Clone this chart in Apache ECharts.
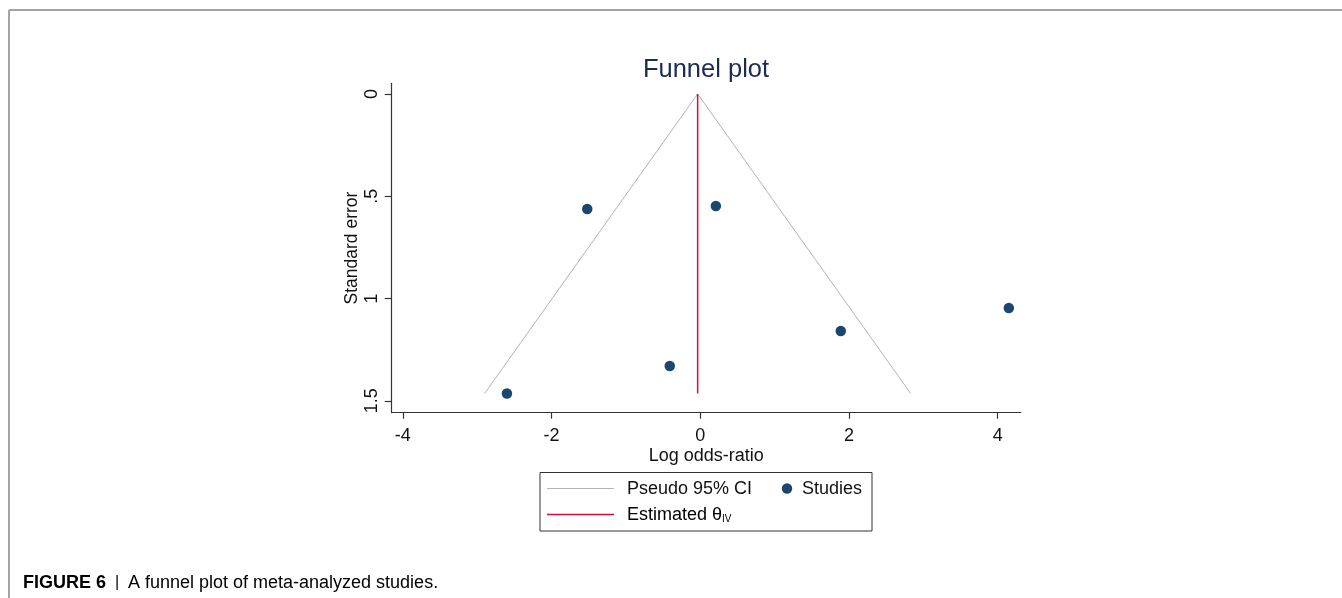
<!DOCTYPE html>
<html>
<head>
<meta charset="utf-8">
<title>Funnel plot</title>
<script src="https://cdn.jsdelivr.net/npm/echarts@6/dist/echarts.min.js"></script>
<style>
  html, body { margin: 0; padding: 0; background: #ffffff; }
  #chart { width: 1342px; height: 598px; }
</style>
</head>
<body>
<div id="chart"></div>
<script>
// Studies: log odds-ratio and its standard error
const studyLogOR = [-1.52, 0.21, 4.15, 1.89, -0.41, -2.60];
const studySE = [0.562, 0.548, 1.046, 1.159, 1.330, 1.464];

// Pseudo 95% CI funnel (left foot, apex, right foot)
const ciLogOR = [-2.90, -0.035, 2.83];
const ciSE = [1.464, 0, 1.464];

// Estimated effect (inverse-variance) line
const estLogOR = [-0.035, -0.035];
const estSE = [0, 1.464];

// Tick labels
const xTicks = [-4, -2, 0, 2, 4];
const yTicks = [0, 0.5, 1, 1.5];
const yTickText = ['0', '.5', '1', '1.5'];

const zip = (xs, ys) => xs.map((x, i) => [x, ys[i]]);

const FONT = '"Liberation Sans", Arial, sans-serif';
const NAVY = '#1a476f';
const RED = '#cc1238';
const GRAY = '#b4b4b4';
const AXIS = '#333333';
const TEXT = '#111111';

const chart = echarts.init(document.getElementById('chart'), null, { renderer: 'canvas' });

chart.setOption({
  animation: false,
  backgroundColor: '#ffffff',
  title: {
    text: 'Funnel plot',
    left: 701,
    textAlign: 'center',
    top: 52,
    textStyle: { fontFamily: FONT, fontSize: 25.5, fontWeight: 'normal', color: '#1c2b50' }
  },
  grid: { left: 391.7, right: 321.3, top: 83.3, bottom: 185.3, containLabel: false },
  xAxis: {
    type: 'value',
    min: -4.15,
    max: 4.31,
    name: 'Log odds-ratio',
    nameLocation: 'middle',
    nameGap: 34,
    nameMoveOverlap: false,
    nameTextStyle: { fontFamily: FONT, fontSize: 18, color: TEXT },
    axisLine: { show: true, onZero: false, lineStyle: { color: AXIS, width: 1.2 } },
    axisTick: { show: true, length: 6, customValues: xTicks, lineStyle: { color: AXIS, width: 1.2 } },
    axisLabel: {
      customValues: xTicks,
      margin: 14,
      fontFamily: FONT, fontSize: 18, color: TEXT,
      formatter: v => String(v)
    },
    splitLine: { show: false }
  },
  yAxis: {
    type: 'value',
    inverse: true,
    min: -0.052,
    max: 1.558,
    name: 'Standard error',
    nameLocation: 'middle',
    nameRotate: 90,
    nameGap: 31,
    nameMoveOverlap: false,
    nameTextStyle: { fontFamily: FONT, fontSize: 17.5, color: TEXT },
    axisLine: { show: true, onZero: false, lineStyle: { color: AXIS, width: 1.2 } },
    axisTick: { show: true, length: 7, customValues: yTicks, lineStyle: { color: AXIS, width: 1.2 } },
    axisLabel: {
      customValues: yTicks,
      rotate: 90,
      margin: 11,
      fontFamily: FONT, fontSize: 18, color: TEXT,
      formatter: v => yTickText[yTicks.indexOf(v)] ?? String(v)
    },
    splitLine: { show: false }
  },
  series: [
    {
      name: 'Pseudo 95% CI',
      type: 'line',
      data: zip(ciLogOR, ciSE),
      symbol: 'none',
      lineStyle: { color: GRAY, width: 1 },
      z: 2
    },
    {
      name: 'Estimated θIV',
      type: 'line',
      data: zip(estLogOR, estSE),
      symbol: 'none',
      lineStyle: { color: RED, width: 1.5 },
      z: 3
    },
    {
      name: 'Studies',
      type: 'scatter',
      data: zip(studyLogOR, studySE),
      symbol: 'circle',
      symbolSize: 10.5,
      itemStyle: { color: NAVY, opacity: 1 },
      z: 4
    }
  ],
  graphic: [
    // page frame
    { type: 'line', shape: { x1: 9, y1: 10, x2: 1342, y2: 10 }, style: { stroke: '#a3a3a3', lineWidth: 2 }, silent: true },
    { type: 'line', shape: { x1: 9, y1: 10, x2: 9, y2: 598 }, style: { stroke: '#a3a3a3', lineWidth: 2 }, silent: true },
    // legend box
    { type: 'rect', shape: { x: 540, y: 472.5, width: 332, height: 58.5 }, style: { fill: '#ffffff', stroke: '#333333', lineWidth: 1 }, silent: true },
    { type: 'line', shape: { x1: 547, y1: 488.5, x2: 614, y2: 488.5 }, style: { stroke: GRAY, lineWidth: 1 }, silent: true },
    { type: 'text', x: 627, y: 489, style: { text: 'Pseudo 95% CI', font: '18px ' + FONT, fill: TEXT, verticalAlign: 'middle' }, silent: true },
    { type: 'circle', shape: { cx: 787, cy: 488.5, r: 5.2 }, style: { fill: NAVY }, silent: true },
    { type: 'text', x: 802, y: 489, style: { text: 'Studies', font: '18px ' + FONT, fill: TEXT, verticalAlign: 'middle' }, silent: true },
    { type: 'line', shape: { x1: 547, y1: 514.5, x2: 614, y2: 514.5 }, style: { stroke: RED, lineWidth: 1.5 }, silent: true },
    {
      type: 'text', x: 627, y: 515,
      style: {
        text: '{a|Estimated θ}{s|IV}',
        verticalAlign: 'middle',
        rich: {
          a: { fontFamily: FONT, fontSize: 18, color: TEXT },
          s: { fontFamily: FONT, fontSize: 10, color: TEXT, padding: [9, 0, 0, 0] }
        }
      },
      silent: true
    },
    // caption
    {
      type: 'text', x: 23, y: 583,
      style: {
        text: '{b|FIGURE 6}{p|  |  }{n|A funnel plot of meta-analyzed studies.}',
        verticalAlign: 'middle',
        rich: {
          b: { fontFamily: FONT, fontSize: 18, fontWeight: 'bold', color: '#2a2a2a' },
          p: { fontFamily: FONT, fontSize: 16, color: '#9a9a9a' },
          n: { fontFamily: FONT, fontSize: 18, color: '#2a2a2a' }
        }
      },
      silent: true
    }
  ]
});
</script>
</body>
</html>
